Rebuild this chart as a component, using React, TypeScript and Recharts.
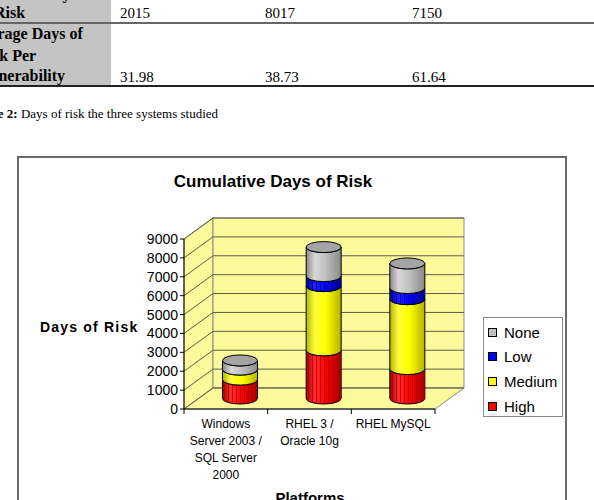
import React from "react";
import {
  BarChart,
  Bar,
  XAxis,
  YAxis,
  ReferenceArea,
  ReferenceLine,
} from "recharts";

// chart values
const platforms = ["Windows Server 2003 / SQL Server 2000", "RHEL 3 / Oracle 10g", "RHEL MySQL"];
const platformLines = [["Windows", "Server 2003 /", "SQL Server", "2000"], ["RHEL 3 /", "Oracle 10g"], ["RHEL MySQL"]];
const high = [1000, 2550, 1560];
const medium = [530, 3400, 3700];
const low = [0, 530, 590];
const none = [485, 1537, 1300];
const yTicks = [0, 1000, 2000, 3000, 4000, 5000, 6000, 7000, 8000, 9000];

// table above the chart
const totalDays = ["2015", "8017", "7150"];
const avgDays = ["31.98", "38.73", "61.64"];
const tableCols = [120, 265, 412];

type Series = { key: string; name: string; base: string; light: string; dark: string; stripes: boolean };
const series: Series[] = [
  { key: "high", name: "High", base: "#ff0000", light: "#ff3030", dark: "#a80000", stripes: true },
  { key: "medium", name: "Medium", base: "#ffff00", light: "#ffff40", dark: "#b4b400", stripes: false },
  { key: "low", name: "Low", base: "#0000ff", light: "#2020ff", dark: "#000090", stripes: true },
  { key: "none", name: "None", base: "#c0c0c0", light: "#d8d8d8", dark: "#8a8a8a", stripes: false },
];

const data = platforms.map((p, i) => ({
  platform: p,
  high: high[i],
  medium: medium[i],
  low: low[i],
  none: none[i],
}));

// 3d depth offset and plot size
const DX = 29;
const DY = -21;
const PLOT_W = 251;
const BAND = PLOT_W / platforms.length;
const WALL = "#fdfa9c";
const GRID = "#5e5e48";
const SANS = "'Liberation Sans', Arial, sans-serif";
const SERIF = "'Liberation Serif', 'Times New Roman', serif";

function WallShape(p: any) {
  const { x, y, width: w, height: h } = p;
  return (
    <g>
      <polygon
        points={`${x},${y + h} ${x + DX},${y + h + DY} ${x + DX},${y + DY} ${x},${y}`}
        fill={WALL}
        stroke="#8c8c78"
      />
      <rect x={x + DX} y={y + DY} width={w} height={h} fill={WALL} stroke="#8c8c78" />
      <polygon
        points={`${x},${y + h} ${x + w},${y + h} ${x + w + DX},${y + h + DY} ${x + DX},${y + h + DY}`}
        fill={WALL}
        stroke="#8c8c78"
      />
    </g>
  );
}

function GridShape(p: any) {
  const { x1, y1, x2 } = p;
  return (
    <g>
      <line x1={x1} y1={y1} x2={x1 + DX} y2={y1 + DY} stroke={GRID} strokeWidth={1} />
      <line x1={x1 + DX} y1={y1 + DY} x2={x2 + DX} y2={y1 + DY} stroke={GRID} strokeWidth={1} />
    </g>
  );
}

const makeCylinder = (s: Series, isTop: boolean) => (p: any) => {
  const { x, y, width, height } = p;
  if (height == null || height < 0.5) return <g />;
  const rx = width / 2;
  const ry = 5.5;
  const cx = x + rx + DX / 2;
  const top = y + DY / 2;
  const bot = y + height + DY / 2;
  const d = `M${cx - rx},${top} L${cx - rx},${bot} A${rx},${ry} 0 0 0 ${cx + rx},${bot} L${cx + rx},${top} A${rx},${ry} 0 0 1 ${cx - rx},${top} Z`;
  return (
    <g>
      <path d={d} fill={`url(#grad-${s.key})`} stroke="#000" strokeWidth={1} />
      {s.stripes && <path d={d} fill={`url(#stripe-${s.key})`} stroke="none" />}
      {isTop && (
        <ellipse cx={cx} cy={top} rx={rx} ry={ry} fill="#a4a4a4" stroke="#000" strokeWidth={1} />
      )}
    </g>
  );
};

function PlatformTick(p: any) {
  const { x, y, index } = p;
  const lines = platformLines[index] || [];
  return (
    <g>
      {index === 0 && <line x1={x - BAND / 2} y1={y} x2={x - BAND / 2} y2={y + 5} stroke="#000" />}
      <line x1={x + BAND / 2} y1={y} x2={x + BAND / 2} y2={y + 5} stroke="#000" />
      <text x={x} y={y + 19} textAnchor="middle" fontSize={12} fontFamily={SANS} fill="#000">
        {lines.map((l, i) => (
          <tspan key={i} x={x} dy={i === 0 ? 0 : 17}>
            {l}
          </tspan>
        ))}
      </text>
    </g>
  );
}

export default function App() {
  return (
    <div style={{ position: "absolute", left: 0, top: 0, width: 594, height: 500, overflow: "hidden", background: "#fff" }}>
      <svg width={594} height={500} style={{ position: "absolute", left: 0, top: 0 }}>
        {/* table fragment */}
        <rect x={0} y={0} width={111} height={22} fill="#c4c4c4" />
        <rect x={0} y={24} width={111} height={61} fill="#c4c4c4" />
        <line x1={0} y1={23} x2={594} y2={23} stroke="#333" strokeWidth={1.5} />
        <line x1={0} y1={86} x2={594} y2={86} stroke="#222" strokeWidth={2} />
        <g fontFamily={SERIF} fontSize={16} fontWeight="bold" fill="#000">
          <text x={4} y={-1}>Total Days of</text>
          <text x={-6} y={18}>Risk</text>
          <text x={-28} y={39}>Average Days of</text>
          <text x={-23} y={61}>Risk Per</text>
          <text x={-25} y={81}>Vulnerability</text>
        </g>
        <g fontFamily={SERIF} fontSize={15} fill="#000">
          {totalDays.map((v, i) => (
            <text key={"t" + i} x={tableCols[i]} y={18}>{v}</text>
          ))}
          {avgDays.map((v, i) => (
            <text key={"a" + i} x={tableCols[i]} y={82}>{v}</text>
          ))}
        </g>
        <text x={-27} y={118} fontFamily={SERIF} fontSize={13} fill="#000">
          <tspan fontWeight="bold">Table 2:</tspan> Days of risk the three systems studied
        </text>

        {/* chart frame and titles */}
        <rect x={18} y={157} width={548} height={400} fill="#fff" stroke="#6a6a6a" strokeWidth={2} />
        <text x={273} y={187} textAnchor="middle" fontFamily={SANS} fontSize={17} fontWeight="bold">
          Cumulative Days of Risk
        </text>
        <text x={40} y={332} fontFamily={SANS} fontSize={14} fontWeight="bold" letterSpacing={1.2}>
          Days of Risk
        </text>
        <text x={310} y={503} textAnchor="middle" fontFamily={SANS} fontSize={15} fontWeight="bold">
          Platforms
        </text>
      </svg>

      <div style={{ position: "absolute", left: 0, top: 0 }}>
        <BarChart
          width={594}
          height={500}
          data={data}
          margin={{ top: 239, right: 159, bottom: 51, left: 124 }}
          barSize={35}
        >
          <defs>
            {series.map((s) => (
              <linearGradient key={s.key} id={`grad-${s.key}`} x1="0" y1="0" x2="1" y2="0">
                <stop offset="0%" stopColor={s.dark} />
                <stop offset="25%" stopColor={s.light} />
                <stop offset="55%" stopColor={s.base} />
                <stop offset="100%" stopColor={s.dark} />
              </linearGradient>
            ))}
            {series.map((s) => (
              <pattern key={s.key} id={`stripe-${s.key}`} width={4} height={10} patternUnits="userSpaceOnUse">
                <rect x={0} y={0} width={1} height={10} fill={s.dark} opacity={0.7} />
              </pattern>
            ))}
          </defs>
          <ReferenceArea y1={0} y2={9000} shape={WallShape} ifOverflow="visible" zIndex={-60} />
          {yTicks.map((v) => (
            <ReferenceLine key={v} y={v} shape={GridShape} ifOverflow="visible" zIndex={-50} />
          ))}
          <XAxis
            dataKey="platform"
            interval={0}
            height={40}
            tickLine={false}
            tickSize={0}
            tickMargin={0}
            axisLine={{ stroke: "#000" }}
            tick={<PlatformTick />}
          />
          <YAxis
            width={60}
            domain={[0, 9000]}
            ticks={yTicks}
            interval={0}
            tickSize={4}
            tickMargin={2}
            axisLine={{ stroke: "#000" }}
            tickLine={{ stroke: "#000" }}
            tick={{ fill: "#000", fontSize: 14, fontFamily: SANS }}
          />
          {series.map((s, i) => (
            <Bar
              key={s.key}
              dataKey={s.key}
              name={s.name}
              stackId="risk"
              fill={s.base}
              shape={makeCylinder(s, i === series.length - 1)}
              isAnimationActive={false}
            />
          ))}
        </BarChart>
      </div>

      {/* legend */}
      <div
        style={{
          position: "absolute",
          left: 483,
          top: 317,
          width: 78,
          height: 98,
          border: "1px solid #8a8a8a",
          fontFamily: SANS,
          fontSize: 15,
          background: "#fff",
        }}
      >
        {[...series].reverse().map((s, i) => (
          <div
            key={s.key}
            style={{ position: "absolute", left: 4, top: 5 + i * 24.7, height: 18, display: "flex", alignItems: "center" }}
          >
            <span
              style={{ width: 7, height: 7, background: s.base, border: "1px solid #000", display: "inline-block", marginRight: 7 }}
            />
            <span>{s.name}</span>
          </div>
        ))}
      </div>
    </div>
  );
}
